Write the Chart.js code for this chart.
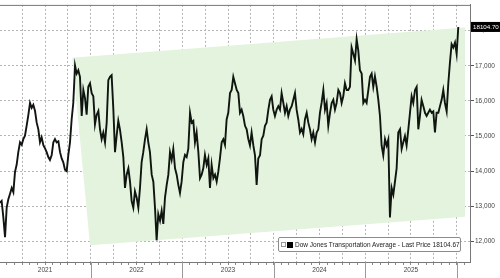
<!DOCTYPE html>
<html>
<head>
<meta charset="utf-8">
<script src="https://cdn.jsdelivr.net/npm/chart.js@4.4.1/dist/chart.umd.min.js"></script>
<style>
  html, body { margin: 0; padding: 0; background: #fff; }
  #wrap { position: relative; width: 500px; height: 278px; }
  #legend {
    position: absolute; left: 278px; top: 237px; width: 181px; height: 13px;
    border: 1px solid #8c8c8c; border-radius: 2px; background: #fff;
    font: 6.5px 'Liberation Sans', Arial, sans-serif; color: #222;
    display: flex; align-items: center; white-space: nowrap;
  }
  #legend .hollow { width: 3px; height: 3px; border: 1px solid #999; margin-left: 2px; }
  #legend .solid { width: 6px; height: 6px; background: #000; margin-left: 1px; margin-right: 2px; }
</style>
</head>
<body>
<div id="wrap">
  <canvas id="chart" width="500" height="278"></canvas>
  <div id="legend"><span class="hollow"></span><span class="solid"></span><span id="legendText"></span></div>
</div>
<script>
// dates as decimal years, prices
const dates = [
  2021.008,2021.026,2021.044,2021.063,2021.081,2021.099,2021.117,2021.136,2021.154,2021.172,
  2021.190,2021.208,2021.227,2021.245,2021.263,2021.281,2021.299,2021.318,2021.336,2021.354,
  2021.372,2021.391,2021.409,2021.427,2021.445,2021.463,2021.482,2021.500,2021.518,2021.536,
  2021.554,2021.573,2021.591,2021.609,2021.627,2021.646,2021.664,2021.682,2021.700,2021.718,
  2021.737,2021.755,2021.773,2021.791,2021.809,2021.828,2021.846,2021.864,2021.882,2021.901,
  2021.919,2021.937,2021.955,2021.973,2021.992,
  2022.010,2022.028,2022.046,2022.064,2022.083,2022.101,2022.119,2022.137,2022.156,2022.174,
  2022.192,2022.210,2022.228,2022.247,2022.265,2022.283,2022.301,2022.319,2022.338,2022.356,
  2022.374,2022.392,2022.411,2022.429,2022.447,2022.465,2022.483,2022.502,2022.520,2022.538,
  2022.556,2022.574,2022.593,2022.611,2022.629,2022.647,2022.666,2022.684,2022.702,2022.720,
  2022.738,2022.757,2022.775,2022.793,2022.811,2022.830,2022.848,2022.866,2022.884,2022.902,
  2022.921,2022.939,2022.957,2022.975,2022.993,
  2023.012,2023.030,2023.048,2023.066,2023.085,2023.103,2023.121,2023.139,2023.157,2023.176,
  2023.194,2023.212,2023.230,2023.248,2023.267,2023.285,2023.303,2023.321,2023.340,2023.358,
  2023.376,2023.394,2023.412,2023.431,2023.449,2023.467,2023.485,2023.503,2023.522,2023.540,
  2023.558,2023.576,2023.595,2023.613,2023.631,2023.649,2023.667,2023.686,2023.704,2023.722,
  2023.740,2023.758,2023.777,2023.795,2023.813,2023.831,2023.850,2023.868,2023.886,2023.904,
  2023.922,2023.941,2023.959,2023.977,2023.995,
  2024.013,2024.032,2024.050,2024.068,2024.086,2024.105,2024.123,2024.141,2024.159,2024.177,
  2024.196,2024.214,2024.232,2024.250,2024.268,2024.287,2024.305,2024.323,2024.341,2024.360,
  2024.378,2024.396,2024.414,2024.432,2024.451,2024.469,2024.487,2024.505,2024.523,2024.542,
  2024.560,2024.578,2024.596,2024.615,2024.633,2024.651,2024.669,2024.687,2024.706,2024.724,
  2024.742,2024.760,2024.778,2024.797,2024.815,2024.833,2024.851,2024.870,2024.888,2024.906,
  2024.924,2024.942,2024.961,2024.979,2024.997,
  2025.015,2025.034,2025.052,2025.070,2025.088,2025.106,2025.125,2025.143,2025.161,2025.179,
  2025.197,2025.216,2025.234,2025.252,2025.270,2025.289,2025.307,2025.325,2025.343,2025.361,
  2025.380,2025.398,2025.416,2025.434,2025.452,2025.471,2025.489,2025.507,2025.525,2025.544,
  2025.562,2025.580,2025.598,2025.616,2025.635,2025.653,2025.671,2025.689,2025.707,2025.726,
  2025.744,2025.762,2025.780,2025.799,2025.817,2025.835,2025.853,2025.871,2025.890,2025.908,
  2025.926,2025.944,2025.962,2025.981,2025.999,
  2026.017
];
const prices = [
  13100,13150,12700,12120,12960,13200,13350,13520,13400,13980,
  14180,14540,14820,14750,14910,15010,15290,15600,15940,15800,
  15890,15710,15380,15190,14820,14960,14740,14650,14540,14400,
  14320,14460,14820,14910,14820,14850,14540,14360,14250,14040,
  14000,14460,14820,15470,15940,17010,16777,16870,16685,15570,
  16310,16080,15610,16400,16500,16220,16130,15330,15600,15710,
  15190,14910,15100,14820,15380,16590,16685,16730,15750,14540,
  15010,15430,15190,14820,14400,13520,13900,14080,13700,13146,
  12960,13425,13240,12960,13520,14260,14540,14910,15190,14820,
  14540,13900,13700,12960,12030,12780,12590,12870,12500,13240,
  13610,13900,14540,14320,14630,14080,13900,13610,13380,13700,
  14260,14460,14400,14630,15660,15380,15430,14820,15100,14540,
  13800,13900,14080,14460,14180,14360,13520,14180,13800,13900,
  13700,13984,14360,14820,14910,14750,15470,15660,16220,16310,
  16685,16500,16310,16220,15660,15750,15570,15290,15190,14910,
  14730,15100,14730,14450,13610,14360,14450,14910,15010,15290,
  15380,15750,16030,16130,15750,15570,15750,15850,15750,16220,
  15940,15660,15850,15570,15750,15850,16030,16220,15750,15470,
  15100,15200,15050,15470,15660,15380,15190,14910,15100,14820,
  15100,15190,15660,15940,16310,15750,15940,15290,15660,15940,
  16030,15750,15940,16310,16220,15940,16130,16500,16310,16310,
  16400,17520,17335,17150,17755,17430,16870,16777,15940,16030,
  15940,16310,16685,16777,16400,16700,16400,16030,15570,14730,
  14450,14910,14730,14900,12680,13520,13330,13700,14080,15100,
  15190,14630,14820,15000,14730,15190,15660,16130,15940,16310,
  16400,15190,15570,16030,15850,15660,15570,15660,15750,15660,
  15700,15100,15660,15660,15850,16030,16310,15940,15700,16500,
  17100,17615,17520,17660,17335,18104.67
];

// green channel corners (date, level)
const channelDates = [2021.798, 2026.090, 2026.090, 2021.992, 2021.798];
const channelLevels = [17224, 18089, 12698, 11888, 17224];

const yearLabels = ['2021', '2022', '2023', '2024', '2025'];
const yTicks = [12000, 13000, 14000, 15000, 16000, 17000, 18000];
const seriesName = 'Dow Jones Transportation Average - Last Price';
const lastPriceText = '18104.67';
const lastTagText = '18104.70';

document.getElementById('legendText').textContent = seriesName + '  ' + lastPriceText;

const X_MIN = 2021.008, X_MAX = 2026.145;
const font = { family: "'Liberation Sans', Arial, sans-serif", size: 6.5 };

const monthIndex = v => Math.round((v - 2021) * 12);

const extras = {
  id: 'extras',
  afterDraw(chart) {
    const { ctx, chartArea, scales } = chart;
    ctx.save();
    // top frame line
    ctx.strokeStyle = '#777';
    ctx.lineWidth = 1;
    ctx.beginPath();
    ctx.moveTo(chartArea.left, chartArea.top + 0.5);
    ctx.lineTo(chartArea.right, chartArea.top + 0.5);
    ctx.stroke();
    // long ticks at year boundaries
    ctx.strokeStyle = '#999';
    for (let yr = 2022; yr <= 2026; yr++) {
      const px = Math.round(scales.x.getPixelForValue(yr)) + 0.5;
      ctx.beginPath();
      ctx.moveTo(px, chartArea.bottom);
      ctx.lineTo(px, chart.height);
      ctx.stroke();
    }
    // last price tag
    const py = scales.y.getPixelForValue(prices[prices.length - 1]);
    ctx.fillStyle = '#000';
    ctx.fillRect(chartArea.right + 1, py - 5, 29, 10);
    ctx.fillStyle = '#fff';
    ctx.font = "6.2px 'Liberation Sans', Arial, sans-serif";
    ctx.textBaseline = 'middle';
    ctx.fillText(lastTagText, chartArea.right + 3, py + 0.5);
    ctx.restore();
  }
};

new Chart(document.getElementById('chart'), {
  type: 'line',
  data: {
    datasets: [
      {
        data: dates.map((d, i) => ({ x: d, y: prices[i] })),
        borderColor: '#101510',
        borderWidth: 1.9,
        pointRadius: 0,
        tension: 0,
        fill: false,
        order: 1
      },
      {
        data: channelDates.map((d, i) => ({ x: d, y: channelLevels[i] })),
        borderWidth: 0,
        borderColor: 'rgba(0,0,0,0)',
        backgroundColor: '#e3f3de',
        pointRadius: 0,
        fill: 'shape',
        order: 2
      }
    ]
  },
  options: {
    responsive: false,
    animation: false,
    layout: { padding: 0 },
    plugins: { legend: { display: false }, tooltip: { enabled: false } },
    scales: {
      x: {
        type: 'linear',
        min: X_MIN,
        max: X_MAX,
        afterBuildTicks(scale) {
          const t = [];
          for (let m = 0; m <= 64; m++) {
            const v = 2021 + m / 12;
            if (v >= X_MIN && v <= X_MAX) t.push({ value: v });
          }
          scale.ticks = t;
        },
        afterFit(scale) { scale.height = 16; },
        ticks: {
          autoSkip: false,
          maxRotation: 0,
          padding: 1,
          color: '#444',
          font,
          callback(v) {
            const m = monthIndex(v);
            return m % 12 === 6 ? yearLabels[(m - 6) / 12] : '';
          }
        },
        grid: {
          color: c => (c.tick && monthIndex(c.tick.value) % 3 === 0) ? '#b4b4b4' : 'rgba(0,0,0,0)',
          tickColor: '#888',
          tickLength: 3,
          lineWidth: 1
        },
        border: { color: '#777', width: 1, dash: [2, 2] }
      },
      y: {
        position: 'right',
        min: 11413,
        max: 18732,
        afterBuildTicks(scale) { scale.ticks = yTicks.map(v => ({ value: v })); },
        afterFit(scale) { scale.width = 30; },
        ticks: { color: '#444', font, padding: 1 },
        grid: { color: '#b4b4b4', tickColor: '#555', tickLength: 4 },
        border: { color: '#777', width: 1, dash: [2, 2] }
      }
    }
  },
  plugins: [extras]
});
</script>
</body>
</html>
